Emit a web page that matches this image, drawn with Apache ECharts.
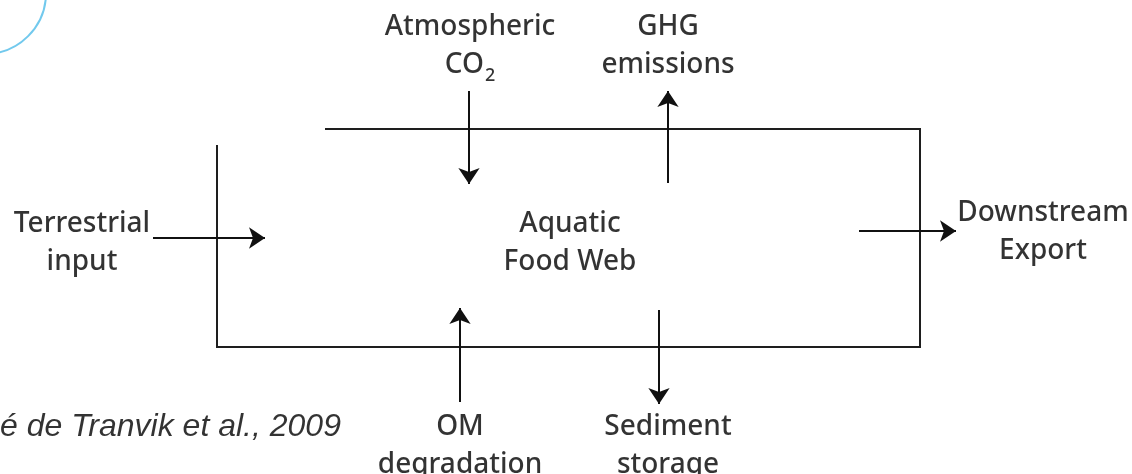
<!DOCTYPE html>
<html>
<head>
<meta charset="utf-8">
<script src="https://cdn.jsdelivr.net/npm/echarts@6/dist/echarts.min.js"></script>
<style>
  html, body { margin: 0; padding: 0; background: #fff; }
  #main { width: 1132px; height: 474px; }
</style>
</head>
<body>
<div id="main"></div>
<script>
// diagram drawn on a pixel-like value grid (x 0..1132, y 0..474 downwards)
const boxPath = [[325, 129], [920, 129], [920, 347], [217, 347], [217, 145]];

const arrowNames = ["Terrestrial", "CO2", "GHG", "Downstream", "OM", "Sediment"];
const arrowFrom = [[153, 238], [469, 91], [668, 183], [859, 231], [460, 402], [659, 310]];
const arrowTo = [[265, 238], [469, 184], [668, 91], [956, 231], [460, 308], [659, 404]];

const labelTexts = [
  "Atmospheric\nCO{sub|2}",
  "GHG\nemissions",
  "Terrestrial\ninput",
  "Aquatic\nFood Web",
  "Downstream\nExport",
  "OM\ndegradation",
  "Sediment\nstorage"
];
const labelPos = [[470, 46], [668, 46], [82, 243], [570, 243], [1043, 232], [460, 446], [668, 446]];

const citation = "é de Tranvik et al., 2009";
const citationPos = [0, 427];

// decorative blue ring at the top-left corner
const ringCenter = [-15, -7];
const ringSize = 122;

const chart = echarts.init(document.getElementById("main"));

const option = {
  backgroundColor: "#ffffff",
  animation: false,
  grid: { left: 0, right: 0, top: 0, bottom: 0 },
  xAxis: { type: "value", min: 0, max: 1132, show: false },
  yAxis: { type: "value", min: 0, max: 474, inverse: true, show: false },
  series: [
    {
      type: "scatter",
      clip: false,
      silent: true,
      data: [ringCenter],
      symbol: "circle",
      symbolSize: ringSize,
      itemStyle: { color: "rgba(0,0,0,0)", borderColor: "#4fbbe9", borderWidth: 2 }
    },
    {
      type: "lines",
      coordinateSystem: "cartesian2d",
      polyline: true,
      silent: true,
      data: [{ coords: boxPath }],
      lineStyle: { color: "#1e1e1e", width: 2, opacity: 1 }
    },
    {
      type: "lines",
      coordinateSystem: "cartesian2d",
      silent: true,
      symbol: ["none", "arrow"],
      symbolSize: [14, 16],
      data: arrowNames.map((n, i) => ({ name: n, coords: [arrowFrom[i], arrowTo[i]] })),
      lineStyle: { color: "#111", width: 2, opacity: 1 },
      itemStyle: { color: "#000" }
    },
    {
      type: "scatter",
      clip: false,
      silent: true,
      symbolSize: 0,
      data: labelPos.map((p, i) => ({ value: p, text: labelTexts[i] })),
      label: {
        show: true,
        position: "inside",
        formatter: (p) => p.data.text,
        color: "#000",
        fontFamily: "Noto Sans",
        fontWeight: 500,
        fontSize: 28,
        lineHeight: 38,
        align: "center",
        verticalAlign: "middle",
        textBorderWidth: 0,
        rich: {
          sub: { fontFamily: "Noto Sans", fontWeight: 500, fontSize: 18, color: "#000", verticalAlign: "top", padding: [21, 0, 0, 1] }
        }
      }
    },
    {
      type: "scatter",
      clip: false,
      silent: true,
      symbolSize: 0,
      data: [{ value: citationPos, text: citation }],
      label: {
        show: true,
        position: "right",
        distance: 0,
        formatter: (p) => p.data.text,
        color: "#000",
        fontFamily: "Liberation Sans",
        fontStyle: "italic",
        fontSize: 32,
        textBorderWidth: 0
      }
    }
  ]
};

chart.setOption(option);
</script>
</body>
</html>
